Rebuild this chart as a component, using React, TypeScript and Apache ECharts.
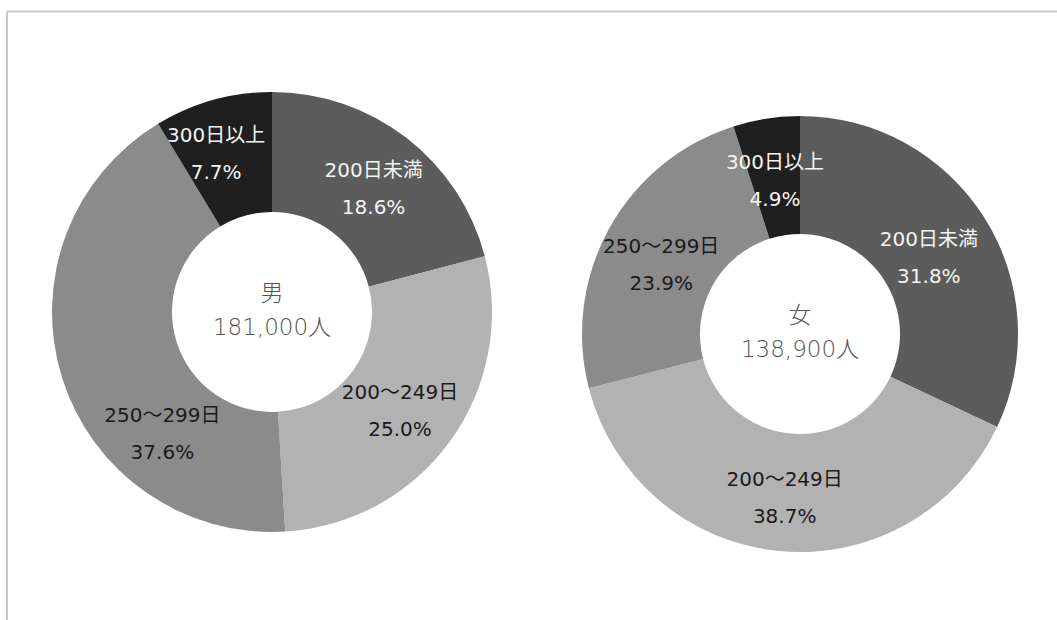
import React, { useEffect, useRef } from "react";
import * as echarts from "echarts";

const categories = ["200日未満", "200～249日", "250～299日", "300日以上"];
const maleValues = [18.6, 25.0, 37.6, 7.7];
const femaleValues = [31.8, 38.7, 23.9, 4.9];
const centerLabels = [
  { sex: "男", total: "181,000人" },
  { sex: "女", total: "138,900人" },
];
const colors = ["#5c5c5c", "#b2b2b2", "#8b8b8b", "#1f1f1f"];
const labelColors = ["#f4f4f4", "#1a1a1a", "#1a1a1a", "#f4f4f4"];

// label nudges (styling only), [seriesIndex][dataIndex] -> [dx, dy]
const labelNudges: number[][][] = [
  [[2, 6], [-4, 3], [46, 73], [-12, -1]],
  [[-8, 10], [0, 2], [3, 9], [0, 7]],
];

const LABEL_FONT = "'DejaVu Sans', 'Noto Sans CJK JP', sans-serif";

function buildData(values: number[]) {
  return values.map((v, i) => ({
    name: categories[i],
    value: v,
    itemStyle: { color: colors[i] },
    label: { color: labelColors[i] },
  }));
}

export default function App() {
  const ref = useRef<HTMLDivElement>(null);
  useEffect(() => {
    if (!ref.current) return;
    const chart = echarts.init(ref.current, undefined, { renderer: "svg" });
    const labelCfg = {
      show: true,
      position: "inside",
      fontSize: 20,
      lineHeight: 37,
      fontFamily: LABEL_FONT,
      formatter: (p: any) => `${p.name}\n${p.value.toFixed(1)}%`,
    };
    const mkSeries = (values: number[], center: [number, number], radius: [number, number]) => ({
      type: "pie",
      center,
      radius,
      startAngle: 90,
      clockwise: true,
      silent: true,
      label: labelCfg,
      labelLine: { show: false },
      labelLayout: (p: any) => {
        const n = labelNudges[p.seriesIndex]?.[p.dataIndex] || [0, 0];
        return { dx: n[0], dy: n[1] };
      },
      itemStyle: { borderWidth: 0 },
      emphasis: { disabled: true },
      data: buildData(values),
    });
    const centerText = (cx: number, cy: number, idx: number) => ({
      type: "text",
      x: cx,
      y: cy,
      style: {
        text: `${centerLabels[idx].sex}\n${centerLabels[idx].total}`,
        textAlign: "center",
        textVerticalAlign: "middle",
        fill: "#555555",
        fontSize: 23,
        lineHeight: 34,
        fontFamily: LABEL_FONT,
        fontWeight: 200,
      },
      z: 10,
    });
    chart.setOption({
      animation: false,
      backgroundColor: "#ffffff",
      series: [
        mkSeries(maleValues, [272, 312], [100, 220]),
        mkSeries(femaleValues, [800, 334], [100, 218]),
      ],
      graphic: [
        {
          type: "line",
          shape: { x1: 7, y1: 11.5, x2: 1057, y2: 11.5 },
          style: { stroke: "#c8c8c8", lineWidth: 2 },
        },
        {
          type: "line",
          shape: { x1: 7, y1: 11.5, x2: 7, y2: 620 },
          style: { stroke: "#c8c8c8", lineWidth: 2 },
        },
        centerText(272, 310, 0),
        centerText(800, 332, 1),
      ],
    });
    return () => chart.dispose();
  }, []);
  return (
    <div
      ref={ref}
      style={{ position: "absolute", left: 0, top: 0, width: 1057, height: 620 }}
    />
  );
}
